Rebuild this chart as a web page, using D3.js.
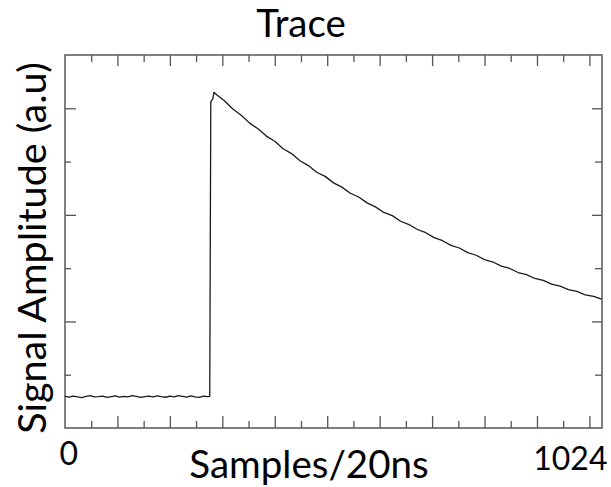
<!DOCTYPE html>
<html>
<head>
<meta charset="utf-8">
<script src="https://cdn.jsdelivr.net/npm/d3@7"></script>
<style>
  body { margin: 0; background: #fff; }
  text { font-family: Lato, "Open Sans", sans-serif; fill: #000; }
</style>
</head>
<body>
<div id="chart"></div>
<script>
// sample index of each reading (20 ns per sample)
const samples = [
  0, 8, 16, 24, 32, 40, 48, 56, 64, 72, 80, 88, 96, 104, 112, 120, 128, 136,
  144, 152, 160, 168, 176, 184, 192, 200, 208, 216, 224, 232, 240, 248, 256,
  264, 272, 276, 278, 282, 284, 288,
  304, 320, 336, 352, 368, 384, 400, 416, 432, 448, 464, 480, 496, 512, 528,
  544, 560, 576, 592, 608, 624, 640, 656, 672, 688, 704, 720, 736, 752, 768,
  784, 800, 816, 832, 848, 864, 880, 896, 912, 928, 944, 960, 976, 992, 1008, 1023
];
// signal amplitude (a.u.)
const amplitude = [
  592, 578, 600, 584, 571, 594, 606, 583, 589, 598, 574, 588, 603, 580, 593, 585, 608, 595,
  576, 590, 599, 582, 604, 588, 577, 597, 585, 606, 592, 579, 601, 586, 574, 598,
  587, 594, 6120, 6180, 6300, 6262,
  6140, 5985, 5870, 5722, 5615, 5478, 5380, 5240, 5150, 5015, 4925, 4800, 4722, 4600, 4520,
  4405, 4335, 4225, 4150, 4045, 3985, 3880, 3818, 3725, 3665, 3572, 3515, 3428, 3378, 3290,
  3242, 3160, 3115, 3038, 2994, 2918, 2880, 2806, 2770, 2700, 2664, 2598, 2565, 2500, 2470, 2418
];
const xLabels = [0, 1024];
const xMajor = [100, 200, 300, 400, 500, 600, 700, 800, 900, 1000];
const xMinor = [50, 150, 250, 350, 450, 550, 650, 750, 850, 950];
const yMajor = [2000, 4000, 6000];
const yMinor = [1000, 3000, 5000];

const W = 611, H = 487;
const margin = {top: 55, right: 9, bottom: 59, left: 65};
const width = W - margin.left - margin.right;
const height = H - margin.top - margin.bottom;

const svg = d3.select("#chart").append("svg")
    .attr("width", W)
    .attr("height", H);

const g = svg.append("g")
    .attr("transform", `translate(${margin.left},${margin.top})`);

const x = d3.scaleLinear().domain([0, 1024]).range([0, width]);
const y = d3.scaleLinear().domain([0, 7000]).range([height, 0]);

const tickColor = "#555";

// inward ticks on all four sides
function ticks(axisFn, vals, len, transform) {
    const a = g.append("g")
        .attr("transform", transform || null)
        .call(axisFn.tickValues(vals).tickSizeInner(-len).tickSizeOuter(0).tickFormat(""));
    a.select(".domain").remove();
    a.selectAll("line").attr("stroke", tickColor).attr("stroke-width", 1.3);
}
ticks(d3.axisBottom(x), xMajor, 12, `translate(0,${height})`);
ticks(d3.axisBottom(x), xMinor, 7, `translate(0,${height})`);
ticks(d3.axisTop(x), xMajor, 11);
ticks(d3.axisTop(x), xMinor, 7);
ticks(d3.axisLeft(y), yMajor, 11);
ticks(d3.axisLeft(y), yMinor, 6);
ticks(d3.axisRight(y), yMajor, 10, `translate(${width},0)`);
ticks(d3.axisRight(y), yMinor, 7, `translate(${width},0)`);

// frame
g.append("rect")
    .attr("width", width)
    .attr("height", height)
    .attr("fill", "none")
    .attr("stroke", "#555")
    .attr("stroke-width", 1.5);

// trace
const data = samples.map((s, i) => ({s: s, v: amplitude[i]}));
g.append("path")
    .datum(data)
    .attr("fill", "none")
    .attr("stroke", "#1a1a1a")
    .attr("stroke-width", 1.3)
    .attr("stroke-linejoin", "round")
    .attr("d", d3.line().x(d => x(d.s)).y(d => y(d.v)));

// x end labels
const xl = g.append("g")
    .attr("transform", `translate(0,${height})`)
    .call(d3.axisBottom(x).tickValues(xLabels).tickSize(0).tickFormat(d3.format("d")));
xl.select(".domain").remove();
xl.selectAll("text")
    .style("font-size", "32px")
    .attr("y", 0)
    .attr("dy", null)
    .attr("text-anchor", (d, i) => i === 0 ? "start" : "end")
    .attr("x", (d, i) => i === 0 ? -6 : 5)
    .attr("transform", (d, i) => `translate(0,${i === 0 ? 37 : 42})`);

// title
svg.append("text")
    .attr("x", 301)
    .attr("y", 37)
    .attr("text-anchor", "middle")
    .style("font-size", "38.5px")
    .text("Trace");

// axis titles
svg.append("text")
    .attr("x", 309)
    .attr("y", 478)
    .attr("text-anchor", "middle")
    .style("font-size", "38.5px")
    .text("Samples/20ns");

svg.append("text")
    .attr("transform", "translate(46,248) rotate(-90)")
    .attr("text-anchor", "middle")
    .style("font-size", "39.5px")
    .text("Signal Amplitude (a.u)");
</script>
</body>
</html>
